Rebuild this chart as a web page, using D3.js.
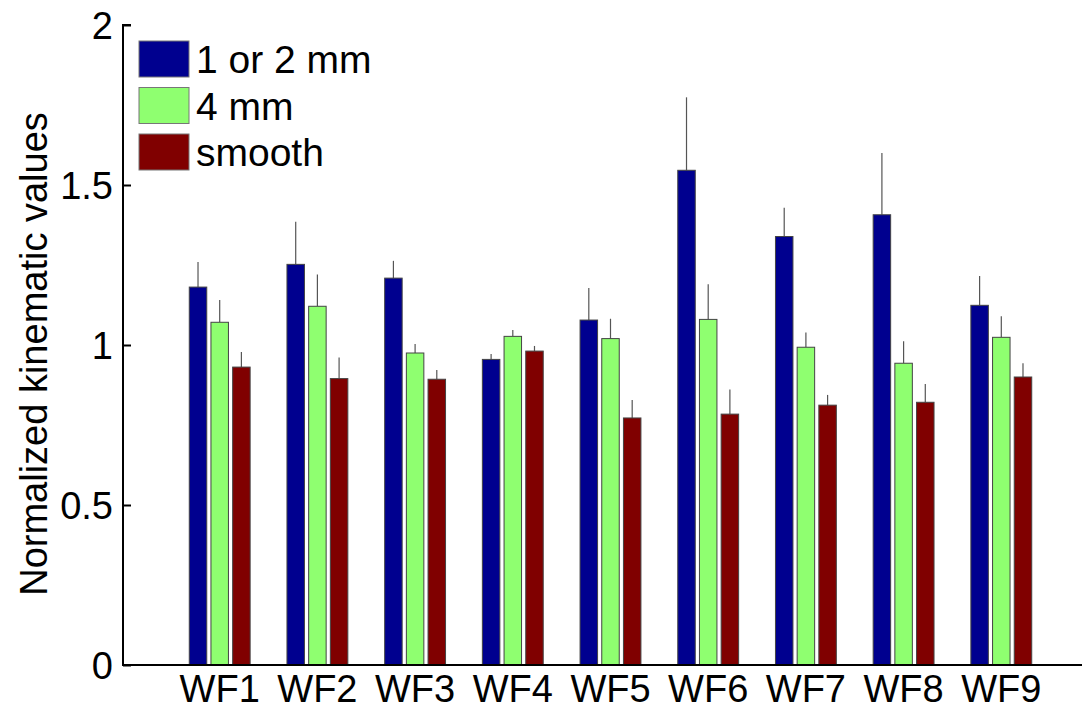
<!DOCTYPE html>
<html>
<head>
<meta charset="utf-8">
<script src="https://cdn.jsdelivr.net/npm/d3@7"></script>
<style>
  body { margin: 0; background: #fff; }
  text { font-family: "Liberation Sans", Arial, sans-serif; fill: #000; }
</style>
</head>
<body>
<div id="chart"></div>
<script>
'use strict';

// categories and series
const categories = ["WF1", "WF2", "WF3", "WF4", "WF5", "WF6", "WF7", "WF8", "WF9"];
const seriesNames = ["1 or 2 mm", "4 mm", "smooth"];
const seriesColors = ["#00008f", "#8fff70", "#800000"];

const small = [1.181, 1.252, 1.209, 0.955, 1.078, 1.546, 1.339, 1.407, 1.124];
const smallErr = [0.078, 0.133, 0.054, 0.017, 0.100, 0.228, 0.090, 0.193, 0.092];
const mid = [1.071, 1.121, 0.975, 1.027, 1.020, 1.080, 0.993, 0.943, 1.024];
const midErr = [0.070, 0.099, 0.028, 0.020, 0.062, 0.110, 0.046, 0.069, 0.066];
const smooth = [0.931, 0.895, 0.893, 0.981, 0.772, 0.784, 0.812, 0.821, 0.900];
const smoothErr = [0.047, 0.066, 0.029, 0.016, 0.056, 0.077, 0.032, 0.057, 0.043];

const yTicks = [0, 0.5, 1, 1.5, 2];

const values = [small, mid, smooth];
const errors = [smallErr, midErr, smoothErr];

const width = 1082, height = 711;

const svg = d3.select("#chart")
  .append("svg")
  .attr("width", width)
  .attr("height", height);

// scales: categories sit at 1..9 on a linear axis like the original
const x = d3.scaleLinear().domain([0, 10]).range([122, 1099]);
const y = d3.scaleLinear().domain([0, 2]).range([665, 25]);

const offset = 0.222, barW = 0.179;

// build flat list of bars
const bars = [];
values.forEach(function(arr, s) {
  arr.forEach(function(v, i) {
    bars.push({ s: s, i: i, v: v, e: errors[s][i] });
  });
});

const cx = function(d) { return x(d.i + 1 + (d.s - 1) * offset); };

// error bars (upper only)
svg.append("g").selectAll("line")
  .data(bars)
  .enter()
  .append("line")
    .attr("x1", cx)
    .attr("x2", cx)
    .attr("y1", function(d) { return y(d.v); })
    .attr("y2", function(d) { return y(d.v + d.e); })
    .attr("stroke", "#555")
    .attr("stroke-width", 1.2);

// bars
const bw = x(barW) - x(0);
svg.append("g").selectAll("rect")
  .data(bars)
  .enter()
  .append("rect")
    .attr("x", function(d) { return cx(d) - bw / 2; })
    .attr("y", function(d) { return y(d.v); })
    .attr("width", bw)
    .attr("height", function(d) { return y(0) - y(d.v); })
    .attr("fill", function(d) { return seriesColors[d.s]; })
    .attr("stroke", "#444")
    .attr("stroke-width", 1);

// y axis, ticks pointing inward
const yAxis = svg.append("g")
  .attr("transform", "translate(123,0)")
  .call(d3.axisRight(y).tickValues(yTicks).tickSize(8).tickFormat(d3.format("")));
yAxis.select(".domain").attr("stroke", "#000").attr("stroke-width", 2)
  .attr("d", "M8," + y(2) + "H0V" + y(0));
yAxis.selectAll(".tick line").attr("stroke", "#000").attr("stroke-width", 2);
yAxis.selectAll(".tick text")
  .attr("x", -10)
  .attr("dy", "0.36em")
  .style("text-anchor", "end")
  .style("font-size", "38px");

// x axis line and category labels
svg.append("line")
  .attr("x1", 122).attr("x2", width)
  .attr("y1", y(0)).attr("y2", y(0))
  .attr("stroke", "#000").attr("stroke-width", 2);

svg.append("g").selectAll("text")
  .data(categories)
  .enter()
  .append("text")
    .attr("x", function(d, i) { return x(i + 1); })
    .attr("y", 702)
    .style("text-anchor", "middle")
    .style("font-size", "38px")
    .text(function(d) { return d; });

// y label
svg.append("text")
  .attr("transform", "translate(47," + 354 + ") rotate(-90)")
  .style("text-anchor", "middle")
  .style("font-size", "38px")
  .text("Normalized kinematic values");

// legend
const legend = svg.append("g").selectAll("g")
  .data(seriesNames)
  .enter()
  .append("g")
    .attr("transform", function(d, i) { return "translate(139," + (41 + i * 46.5) + ")"; });

legend.append("rect")
  .attr("width", 50)
  .attr("height", 36)
  .attr("fill", function(d, i) { return seriesColors[i]; })
  .attr("stroke", "#777")
  .attr("stroke-width", 1);

legend.append("text")
  .attr("x", 57)
  .attr("y", 32)
  .style("font-size", "39px")
  .text(function(d) { return d; });
</script>
</body>
</html>
